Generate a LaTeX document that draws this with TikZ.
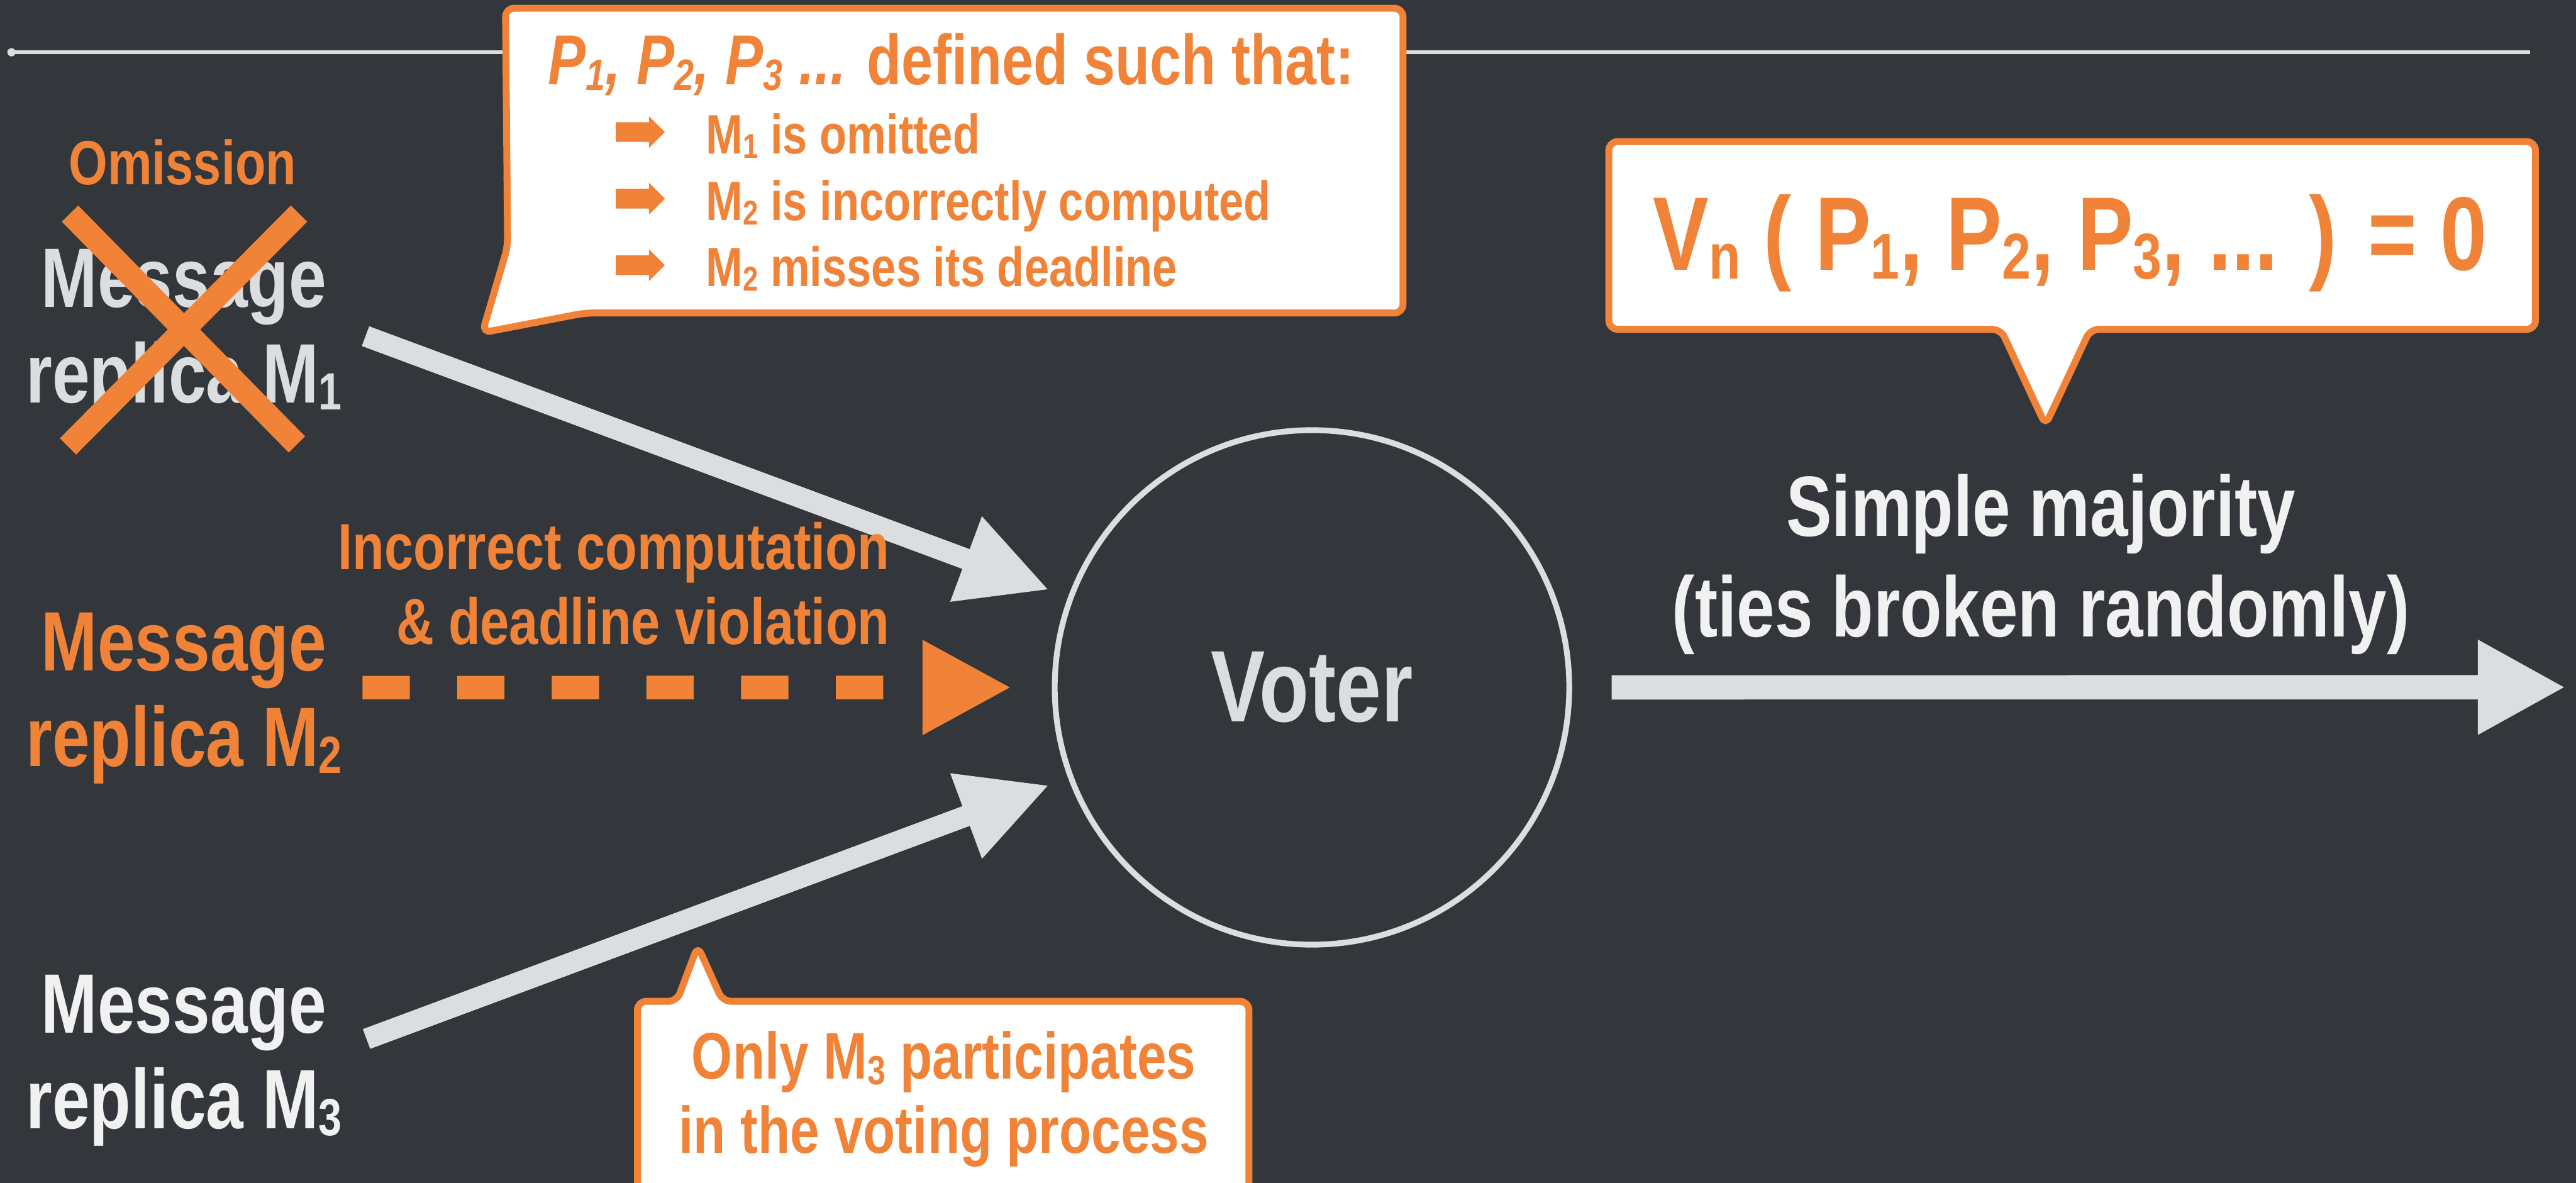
\documentclass[tikz,border=0pt]{standalone}
\usepackage{graphicx}
\usepackage{fontspec}
\setmainfont{Liberation Sans}[FakeStretch=0.8]
\usetikzlibrary{arrows.meta}

\definecolor{board}{RGB}{51,55,59}
\definecolor{chalk}{RGB}{220,221,225}
\definecolor{paper}{RGB}{241,241,241}
\definecolor{orng}{RGB}{240,131,56}

\newcommand{\low}[1]{\raisebox{-.08em}{\scalebox{.62}{#1}}}

\tikzset{
  msg/.style={font=\fontsize{14.6}{16.6}\selectfont\bfseries, align=center, anchor=base, inner sep=0},
  note/.style={font=\fontsize{11.3}{13}\selectfont\bfseries, text=orng, inner sep=0},
  bubble/.style={draw=orng, line width=1.2pt, fill=white, rounded corners=1.5pt},
  fat/.style={draw=chalk, line width=.128cm, -{Triangle[length=.54cm,width=.515cm]}},
}

\begin{document}
\begin{tikzpicture}[x=0.01cm, y=-0.01cm]
    \clip (0,0) rectangle (1568,720);
    \fill[board] (0,0) rectangle (1568,720);

    % rule at the top
    \draw[chalk, line width=.65pt] (7,31.8) -- (1540,31.8);
    \fill[chalk] (7,31.8) circle (2.5);

    % the three replicas
    \node[note, anchor=base, font=\fontsize{10.8}{13}\selectfont\bfseries] (omission) at (111.1,112.4) {Omission};
    \node[msg, text=chalk] (m1) at (112,245.2) {Message\\replica M\low{1}};
    \node[msg, text=orng] (m2) at (112,466.6) {Message\\replica M\low{2}};
    \node[msg, text=paper] (m3) at (112,687) {Message\\replica M\low{3}};
    \draw[orng, line width=.14cm] (42.6,130) -- (180.7,270.5) (182,130) -- (41.4,271.7);

    % voter
    \node[circle, draw=chalk, line width=1pt, minimum size=3.13cm, inner sep=0,
          outer sep=.14cm, text=chalk, font=\fontsize{17.6}{20}\selectfont\bfseries]
          (voter) at (798.6,418.4) {Voter};

    \coordinate (m1tail) at (222.5,204.6);
    \coordinate (m2tail) at (220.6,418.5);
    \coordinate (m3tail) at (223.1,632.4);
    \coordinate (out) at (1561.7,418.3);

    \draw[fat] (m1tail) -- (voter);
    \draw[fat] (m3tail) -- (voter);
    \draw[orng, line width=.143cm, dash pattern=on .288cm off .288cm, shorten >=.122cm,
          -{Triangle[length=.542cm,width=.537cm]}] (m2tail) -- (voter);
    \draw[chalk, line width=.148cm, shorten <=.118cm,
          -{Triangle[length=.534cm,width=.538cm]}] (voter) -- (out);

    \node[note, align=right, anchor=base east] (fault) at (542.2,392.3)
        {Incorrect computation\\\& deadline violation};
    \node[msg, text=paper, font=\fontsize{14.8}{17.35}\selectfont\bfseries] (rule) at (1242.3,387.5)
        {Simple majority\\(ties broken randomly)};

    % callout: conditions
    \draw[bubble] (307.7,5) -- (854,5) -- (854,190.5) -- (356,190.5) -- (293.6,202.5) -- (309,150) -- cycle;
    \node[anchor=base west, inner sep=0, text=orng, font=\fontsize{12.25}{14}\selectfont\bfseries] (cond) at (333,51.6)
        {{\itshape P\low{1}, P\low{2}, P\low{3} ...} defined such that:};
    \foreach \y/\t [count=\i] in {93.5/{M\low{1} is omitted},
                                  134/{M\low{2} is incorrectly computed},
                                  174.5/{M\low{2} misses its deadline}}
    {
        \fill[orng] (374.8,\y-19.1) -- (395,\y-19.1) -- (395,\y-22.8) -- (404.7,\y-13.1)
            -- (395,\y-3.4) -- (395,\y-7.1) -- (374.8,\y-7.1) -- cycle;
        \node[anchor=base west, inner sep=0, text=orng, font=\fontsize{9.6}{11}\selectfont\bfseries] (case\i) at (429,\y) {\t};
    }

    % callout: vote result
    \draw[bubble] (979.3,86.2) -- (1543.3,86.2) -- (1543.3,200.4) -- (1272.4,200.4) -- (1245.1,258.8)
        -- (1217.9,200.4) -- (979.3,200.4) -- cycle;
    \node[anchor=base, inner sep=0, text=orng, font=\fontsize{18.1}{20}\selectfont\bfseries] (vote) at (1260,164.5)
        {V\low{n} ( P\low{1}, P\low{2}, P\low{3}, ... ) = 0};

    % callout: only M3
    \draw[bubble] (388,609.5) -- (412,609.5) -- (424.7,575.8) -- (439.9,609.5) -- (760.2,609.5)
        -- (760.2,730) -- (388,730) -- cycle;
    \node[note, align=center, anchor=base, font=\fontsize{11.4}{12.8}\selectfont\bfseries] (only) at (574.5,701.9)
        {Only M\low{3} participates\\in the voting process};
\end{tikzpicture}
\end{document}
